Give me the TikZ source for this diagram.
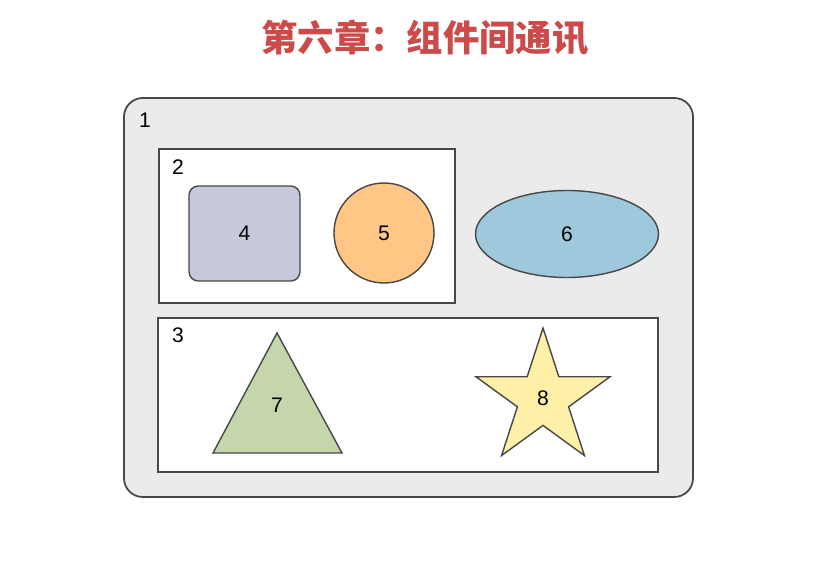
\documentclass[tikz,border=0pt]{standalone}
\usepackage{fontspec}
\setmainfont{Liberation Sans}
\newfontfamily\cjk{Noto Sans CJK SC}
\usetikzlibrary{shapes.geometric}

\definecolor{titlered}{RGB}{204,74,74}
\definecolor{boxgray}{RGB}{235,235,235}
\definecolor{edgegray}{RGB}{72,72,72}
\definecolor{lavender}{RGB}{200,200,220}
\definecolor{peach}{RGB}{255,198,134}
\definecolor{skyblue}{RGB}{158,200,219}
\definecolor{sage}{RGB}{197,214,171}
\definecolor{cream}{RGB}{255,240,168}

\tikzset{
  shapebox/.style={draw=edgegray,line width=1.2pt,inner sep=0pt,
    font=\fontsize{18}{21}\selectfont},
  numlabel/.style={font=\fontsize{18}{21}\selectfont,inner sep=0pt}
}

\begin{document}
\begin{tikzpicture}[x=0.03cm, y=-0.03cm]
            \useasboundingbox[fill=white] (0,0) rectangle (829,563);

            % title
            \node[text=titlered, font=\cjk\bfseries\fontsize{31}{35}\selectfont] (T) at (425,38) {第六章：组件间通讯};

            % containers
            \draw[fill=boxgray, draw=edgegray, line width=1.5pt, rounded corners=16] (124,98) rectangle (693,497);
            \draw[fill=white, draw=edgegray, line width=1.2pt] (159,149) rectangle (455,303);
            \draw[fill=white, draw=edgegray, line width=1.2pt] (158,318) rectangle (658,472);

            \node[numlabel] (L1) at (145,120) {1};
            \node[numlabel] (L2) at (178,167) {2};
            \node[numlabel] (L3) at (178,335) {3};

            % shapes
            \node[shapebox, fill=lavender, rectangle, rounded corners=8, minimum width=111*0.03cm, minimum height=95*0.03cm] (S4) at (244.5,233.5) {4};
            \node[shapebox, fill=peach, circle, minimum size=100*0.03cm] (S5) at (384,233) {5};
            \node[shapebox, fill=skyblue, ellipse, minimum width=183*0.03cm, minimum height=87*0.03cm] (S6) at (567,234) {6};

            \draw[fill=sage, draw=edgegray, line width=1.2pt] (277,333) -- (342,453) -- (213,453) -- cycle;
            \node[numlabel] (S7) at (277,405) {7};

            \node[shapebox, fill=cream, star, star points=5, star point ratio=2.618, minimum size=141*0.03cm] (S8) at (543,398.5) {8};

        \end{tikzpicture}
\end{document}
